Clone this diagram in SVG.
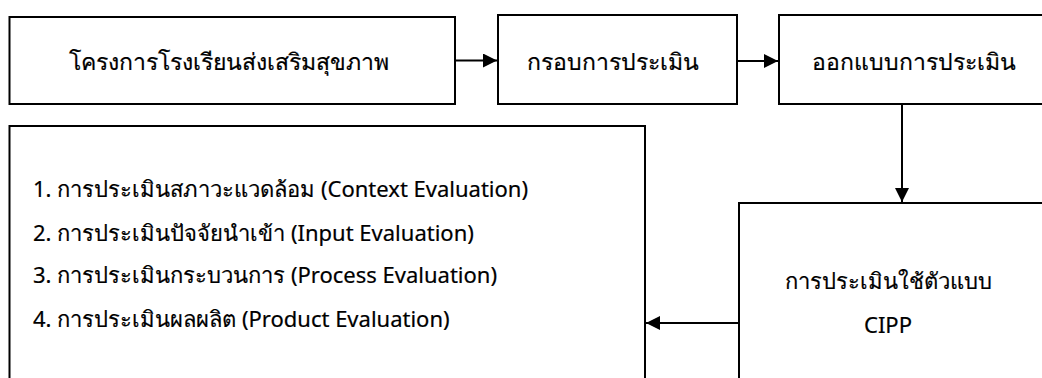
<svg xmlns="http://www.w3.org/2000/svg" width="1042" height="378" viewBox="0 0 1042 378">
<defs>
<marker id="ah" markerWidth="14" markerHeight="14" refX="13" refY="6.5" orient="auto" markerUnits="userSpaceOnUse" viewBox="0 0 13 13">
<path d="M0,0 L13,6.5 L0,13 z" fill="#000"/>
</marker>
<style>
.box{fill:#fff;stroke:#000;stroke-width:2}
.t{font-family:"Noto Sans","DejaVu Sans","Liberation Sans",sans-serif;font-size:22px;font-weight:normal;fill:#000;stroke:#000;stroke-width:0.2}
.h{font-size:23px}
.c{text-anchor:middle;dominant-baseline:central}
.edge{stroke:#000;stroke-width:2;fill:none;marker-end:url(#ah)}
</style>
</defs>
<rect width="1042" height="378" fill="#fff"/>
<g id="n1">
<rect class="box" x="9.5" y="17" width="445.5" height="87"/>
<text class="t h c" x="229" y="61">โครงการโรงเรียนส่งเสริมสุขภาพ</text>
</g>
<g id="n2">
<rect class="box" x="498" y="15" width="239" height="89"/>
<text class="t h c" x="613" y="61">กรอบการประเมิน</text>
</g>
<g id="n3">
<rect class="box" x="779" y="15" width="280" height="89"/>
<text class="t h c" x="914" y="61">ออกแบบการประเมิน</text>
</g>
<g id="n4">
<rect class="box" x="739" y="203" width="320" height="200"/>
<text class="t c" x="888" y="280">การประเมินใช้ตัวแบบ</text>
<text class="t c" x="888" y="324">CIPP</text>
</g>
<g id="n5">
<rect class="box" x="9.5" y="126" width="635.5" height="280"/>
<text class="t" x="33" y="188" dominant-baseline="central">1. การประเมินสภาวะแวดล้อม (Context Evaluation)</text>
<text class="t" x="33" y="232" dominant-baseline="central">2. การประเมินปัจจัยนำเข้า (Input Evaluation)</text>
<text class="t" x="33" y="274" dominant-baseline="central">3. การประเมินกระบวนการ (Process Evaluation)</text>
<text class="t" x="33" y="318" dominant-baseline="central">4. การประเมินผลผลิต (Product Evaluation)</text>
</g>
<g id="edges">
<line class="edge" x1="455" y1="60.5" x2="497" y2="60.5"/>
<line class="edge" x1="737" y1="61" x2="778" y2="61"/>
<line class="edge" x1="902" y1="104" x2="902" y2="202"/>
<line class="edge" x1="739" y1="323" x2="646" y2="323"/>
</g>
</svg>
